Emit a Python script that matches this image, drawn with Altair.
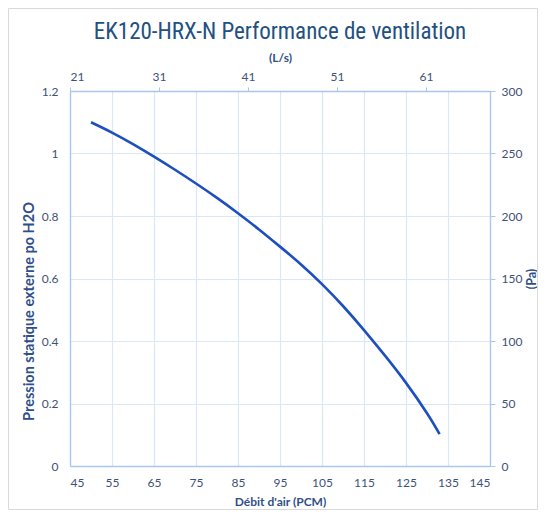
import altair as alt
import pandas as pd

# Data
cfm = [50, 55, 60, 65, 70, 75, 80, 85, 90, 95, 100, 105, 110, 115, 120, 125, 130, 133]
inh2o = [1.10, 1.067, 1.030, 0.990, 0.948, 0.904, 0.858, 0.809, 0.757, 0.702, 0.645,
         0.582, 0.512, 0.435, 0.353, 0.266, 0.169, 0.102]
x_ticks = [45, 55, 65, 75, 85, 95, 105, 115, 125, 135, 145]
y_ticks = [0, 0.2, 0.4, 0.6, 0.8, 1.0, 1.2]
top_ticks = [21.24, 31.24, 41.24, 51.24, 61.24]
right_ticks = [0, 50, 100, 150, 200, 250, 300]

CFM_TO_LS = 0.471947
IN_TO_PA = 250.0

df = pd.DataFrame({"cfm": cfm, "inh2o": inh2o})
df["ls"] = df["cfm"] * CFM_TO_LS
df["pa"] = df["inh2o"] * IN_TO_PA

LABEL_COLOR = "#3E5275"
TITLE_COLOR = "#2F4F8A"
DOMAIN_COLOR = "#A9C6EC"
GRID_COLOR = "#DCE7F6"
FONT = "Lato"

W, H = 420, 375

border = alt.Chart(alt.Data(values=[{}])).mark_rect(
    fill="white", fillOpacity=0, stroke="#D9D9D9", strokeWidth=1
).encode(
    x=alt.value(-61.5), x2=alt.value(W + 47.5),
    y=alt.value(-82.5), y2=alt.value(H + 43.5)
)

main = alt.Chart(df).mark_line(
    color="#1E4FBF", strokeWidth=2.6, interpolate="natural"
).encode(
    x=alt.X("cfm:Q",
            scale=alt.Scale(domain=[45, 145], nice=False, zero=False),
            axis=alt.Axis(orient="bottom", values=x_ticks, title="Débit d'air (PCM)",
                          grid=True, gridColor=GRID_COLOR, gridWidth=1.2,
                          domainColor=DOMAIN_COLOR, domainWidth=1.3,
                          ticks=False, labelPadding=11,
                          labelFont=FONT, labelFontSize=12, labelColor=LABEL_COLOR,
                          titleFont=FONT, titleFontSize=12, titleFontWeight="bold",
                          titleColor=TITLE_COLOR, titlePadding=8)),
    y=alt.Y("inh2o:Q",
            scale=alt.Scale(domain=[0, 1.2], nice=False),
            axis=alt.Axis(orient="left", values=y_ticks,
                          labelExpr="format(datum.value, '.2~f')",
                          title="Pression statique externe po H2O",
                          grid=True, gridColor=GRID_COLOR, gridWidth=1.2,
                          domainColor=DOMAIN_COLOR, domainWidth=1.3,
                          ticks=False, labelPadding=12,
                          labelFont=FONT, labelFontSize=12, labelColor=LABEL_COLOR,
                          titleFont=FONT, titleFontSize=14.5, titleFontWeight="bold",
                          titleColor=TITLE_COLOR,
                          titleX=-41, titleY=220, titleAngle=270,
                          titleAlign="center", titleBaseline="middle")),
)

secondary = alt.Chart(df).mark_line(opacity=0).encode(
    x=alt.X("ls:Q",
            scale=alt.Scale(domain=[45 * CFM_TO_LS, 145 * CFM_TO_LS], nice=False, zero=False),
            axis=alt.Axis(orient="top", values=top_ticks, title="(L/s)",
                          labelExpr="format(datum.value, '.0f')",
                          grid=False, domainColor=DOMAIN_COLOR, domainWidth=1.3,
                          ticks=True, tickColor=DOMAIN_COLOR, tickSize=4, labelPadding=4,
                          labelFont=FONT, labelFontSize=12, labelColor=LABEL_COLOR,
                          titleFont=FONT, titleFontSize=12, titleFontWeight="bold",
                          titleColor=TITLE_COLOR, titlePadding=6)),
    y=alt.Y("pa:Q",
            scale=alt.Scale(domain=[0, 300], nice=False),
            axis=alt.Axis(orient="right", values=right_ticks, title="(Pa)",
                          grid=False, domainColor=DOMAIN_COLOR, domainWidth=1.3,
                          ticks=True, tickColor=DOMAIN_COLOR, tickSize=5, labelPadding=6,
                          labelFont=FONT, labelFontSize=12, labelColor=LABEL_COLOR,
                          titleFont=FONT, titleFontSize=12.5, titleFontWeight="bold",
                          titleColor=TITLE_COLOR, titleAngle=270,
                          titleX=41, titleY=H / 2,
                          titleAlign="center", titleBaseline="middle")),
)

chart = alt.layer(border, main, secondary).resolve_scale(
    x="independent", y="independent"
).properties(
    width=W, height=H,
    title=alt.TitleParams("EK120-HRX-N Performance de ventilation",
                          font="Liberation Sans Narrow, Roboto Condensed, Roboto",
                          fontSize=23, fontWeight="normal", color="#23507F",
                          anchor="middle", offset=0, dy=54, baseline="alphabetic"),
    padding={"left": 62, "top": 83, "right": 48, "bottom": 44},
    autosize=alt.AutoSizeParams(type="none"),
).configure_view(stroke=None).configure(background="white")

chart.save("out.html", embed_options={"renderer": "svg", "actions": False})
